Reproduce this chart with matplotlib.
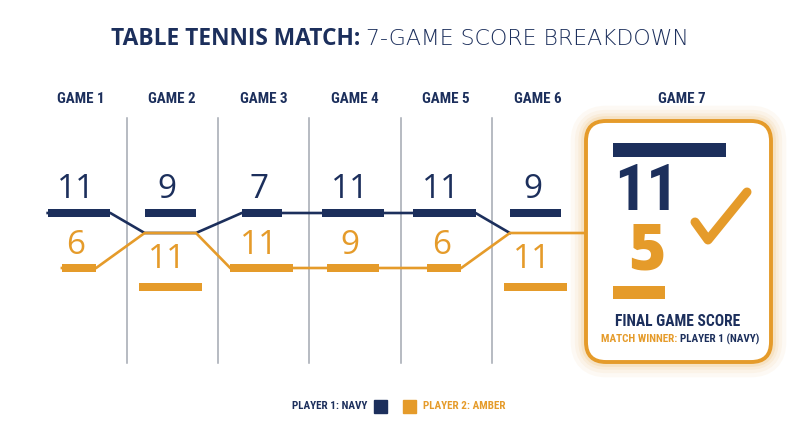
import matplotlib.pyplot as plt
from matplotlib.patches import FancyBboxPatch, Rectangle

# Table tennis match, 7 games
games = ['GAME 1', 'GAME 2', 'GAME 3', 'GAME 4', 'GAME 5', 'GAME 6', 'GAME 7']
p1_scores = [11, 9, 7, 11, 11, 9, 11]
p2_scores = [6, 11, 11, 9, 6, 11, 5]
crossing = [False, True, False, False, False, True]   # games where the two lines meet

NAVY = '#1c2f5c'
AMBER = '#e59b2a'
GRID = '#a3a8b2'
COND = ['Roboto Condensed', 'Roboto', 'DejaVu Sans']
SANS = ['Open Sans', 'DejaVu Sans']

fig = plt.figure(figsize=(8, 4.47), dpi=100)
ax = fig.add_axes([0, 0, 1, 1])
ax.set_xlim(0, 800)
ax.set_ylim(447, 0)
ax.axis('off')

# title
ax.text(360, 39, 'TABLE TENNIS MATCH:', ha='right', va='center', fontsize=16.4,
        fontweight='bold', color=NAVY, family=SANS)
ax.text(366, 39, '7-GAME SCORE BREAKDOWN', ha='left', va='center', fontsize=15.8,
        fontweight='light', color=NAVY, family=['DejaVu Sans'])

# layout of the first six columns
col_w = 91.3
cols = [81 + col_w * i for i in range(6)]
y_top, y_low, y_low2, y_merge = 213, 268, 287, 233
scale = 5.7

for i in range(5):
    ax.plot([cols[i] + col_w / 2] * 2, [118, 363], color=GRID, lw=1.1, zorder=1)

for i, g in enumerate(games[:6]):
    ax.text(cols[i], 99, g, ha='center', va='center', fontsize=10.8,
            fontweight='bold', fontstretch='condensed', color=NAVY, family=COND)

# connecting paths
nav_x, nav_y, amb_x, amb_y = [], [], [], []
bars = []
for i in range(6):
    cx = cols[i] - 2
    w1 = p1_scores[i] * scale
    w2 = p2_scores[i] * scale
    l1, r1 = cx - w1 / 2, cx + w1 / 2
    l2, r2 = cx - w2 / 2, cx + w2 / 2
    yb2 = y_low2 if crossing[i] else y_low
    bars.append((cx, w1, w2, yb2))
    if crossing[i]:
        if i == 5:
            nav_x += [l1]; nav_y += [y_merge]
            amb_x += [l1, 586]; amb_y += [y_merge, y_merge]
        else:
            nav_x += [l1, r1]; nav_y += [y_merge, y_merge]
            amb_x += [l1, r1]; amb_y += [y_merge, y_merge]
    else:
        nav_x += [l1, r1]; nav_y += [y_top, y_top]
        amb_x += [l2, r2]; amb_y += [y_low, y_low]

ax.plot(nav_x, nav_y, color=NAVY, lw=1.9, zorder=2, solid_joinstyle='miter')
ax.plot(amb_x, amb_y, color=AMBER, lw=1.9, zorder=2, solid_joinstyle='miter')

for i, (cx, w1, w2, yb2) in enumerate(bars):
    ax.barh(y_top, w1, left=cx - w1 / 2, height=8, color=NAVY, zorder=3)
    ax.barh(yb2, w2, left=cx - w2 / 2, height=8, color=AMBER, zorder=3)
    ax.text(cx - 3, 190, str(p1_scores[i]), ha='center', va='center', fontsize=24,
            color=NAVY, family=SANS)
    ny = 260 if crossing[i] else 245
    ax.text(cx - 3, ny, str(p2_scores[i]), ha='center', va='center', fontsize=24,
            color=AMBER, family=SANS)

# game 7 highlight box
ax.text(682, 99, games[6], ha='center', va='center', fontsize=10.8,
        fontweight='bold', fontstretch='condensed', color=NAVY, family=COND)
for lw, a in [(22, 0.05), (16, 0.06), (11, 0.08), (7, 0.12)]:
    ax.add_patch(FancyBboxPatch((586, 121), 185, 241, boxstyle='round,pad=0,rounding_size=20',
                                fc='none', ec=AMBER, lw=lw, alpha=a, zorder=4))
ax.add_patch(FancyBboxPatch((586, 121), 185, 241, boxstyle='round,pad=0,rounding_size=20',
                            fc='white', ec=AMBER, lw=2.8, zorder=5))

big = 10.3
ax.barh(150, p1_scores[6] * big, left=613, height=14, color=NAVY, zorder=6)
ax.barh(292, p2_scores[6] * big, left=613, height=13, color=AMBER, zorder=6)
ax.text(646, 193, str(p1_scores[6]), ha='center', va='center', fontsize=46,
        fontweight='heavy', color=NAVY, family=COND, zorder=6)
ax.text(647, 253, str(p2_scores[6]), ha='center', va='center', fontsize=46,
        fontweight='heavy', color=AMBER, family=SANS, zorder=6)
ax.plot([695, 708, 747], [222, 240, 192], color=AMBER, lw=6.5, zorder=6,
        solid_capstyle='round', solid_joinstyle='round')

ax.text(678, 321, 'FINAL GAME SCORE', ha='center', va='center', fontsize=11.2,
        fontweight='bold', fontstretch='condensed', color=NAVY, family=COND, zorder=6)
ax.text(677, 339, 'MATCH WINNER:', ha='right', va='center', fontsize=8,
        fontweight='bold', fontstretch='condensed', color=AMBER, family=COND, zorder=6)
ax.text(680, 339, 'PLAYER 1 (NAVY)', ha='left', va='center', fontsize=8,
        fontweight='bold', fontstretch='condensed', color=NAVY, family=COND, zorder=6)

# legend
ax.text(367, 406, 'PLAYER 1: NAVY', ha='right', va='center', fontsize=8,
        fontweight='bold', fontstretch='condensed', color=NAVY, family=COND)
ax.add_patch(Rectangle((374, 400), 13, 13, color=NAVY))
ax.add_patch(Rectangle((403, 400), 13, 13, color=AMBER))
ax.text(423, 406, 'PLAYER 2: AMBER', ha='left', va='center', fontsize=8,
        fontweight='bold', fontstretch='condensed', color=AMBER, family=COND)

fig.savefig('out.png', dpi=100, facecolor='white')
